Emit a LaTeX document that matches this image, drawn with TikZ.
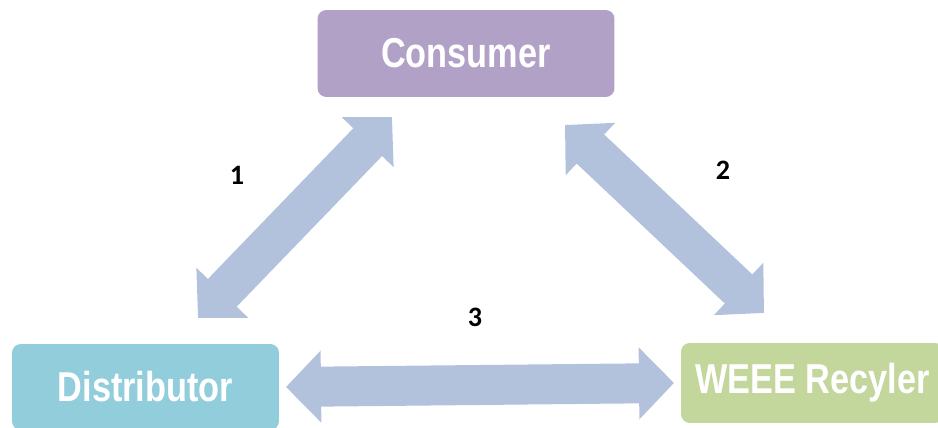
\documentclass[tikz,border=0pt]{standalone}
\usepackage{fontspec}
\setmainfont{Liberation Sans}
\newfontfamily\boxfont[FakeStretch=0.82]{Liberation Sans}
\newfontfamily\numfont{Carlito}
\usetikzlibrary{arrows.meta,positioning}
\definecolor{cons}{RGB}{178,161,199}
\definecolor{dist}{RGB}{146,205,220}
\definecolor{recy}{RGB}{195,214,155}
\definecolor{flow}{RGB}{178,193,220}
\tikzset{
  actor/.style={rounded corners=5pt,text=white,align=center,inner sep=0pt,
    font=\boxfont\bfseries\fontsize{23.8}{28}\selectfont},
  dbl/.style={draw=flow,line width=0.8cm,
    {Triangle[width=1.4cm,length=0.7cm]}-{Triangle[width=1.4cm,length=0.7cm]}},
  num/.style={font=\numfont\bfseries\fontsize{16}{19}\selectfont}
}
\begin{document}
\begin{tikzpicture}[x=0.02cm,y=-0.02cm]
\useasboundingbox (0,0) rectangle (938,428);
\node[actor,fill=cons,minimum width=5.94cm,minimum height=1.74cm] (con) at (466,53.5) {Consumer};
\node[actor,fill=dist,minimum width=5.34cm,minimum height=1.72cm] (dis) at (145.5,387) {Distributor};
\node[actor,fill=recy,minimum width=5.26cm,minimum height=1.6cm] (rec) at (812.5,383) {WEEE Recyler};
% arrow ends
\coordinate (d1) at (198,318);
\coordinate (c1) at (392,117);
\coordinate (c2) at (565,125);
\coordinate (r2) at (764,313);
\coordinate (d3) at (286,387);
\coordinate (r3) at (674,383);
\draw[dbl] (d1) -- (c1);
\draw[dbl] (c2) -- (r2);
\draw[dbl] (d3) -- (r3);
\node[num] (n1) at (237,175) {1};
\node[num] (n2) at (723,170) {2};
\node[num] (n3) at (475,317) {3};
\end{tikzpicture}
\end{document}
